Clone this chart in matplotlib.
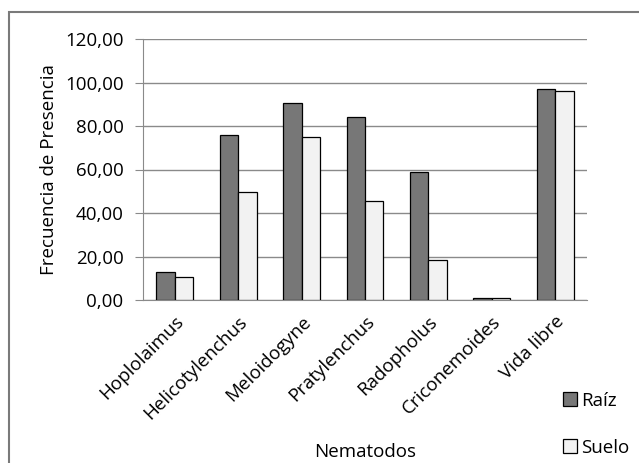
import matplotlib
matplotlib.use("Agg")
import matplotlib.pyplot as plt
from matplotlib.patches import Rectangle
from matplotlib.ticker import FuncFormatter
import numpy as np

plt.rcParams['font.family'] = ['Open Sans', 'DejaVu Sans']

nematodos = ["Hoplolaimus", "Helicotylenchus", "Meloidogyne", "Pratylenchus",
             "Radopholus", "Criconemoides", "Vida libre"]
raiz  = [12.7, 76.0, 90.6, 84.0, 59.0, 0.8, 96.9]
suelo = [10.7, 49.6, 75.0, 45.4, 18.5, 0.8, 96.0]

fs = 13.5

fig = plt.figure(figsize=(6.39, 4.63), dpi=100)
ax = fig.add_axes([143/639, 1 - 300/463, (587 - 143)/639, (300 - 39)/463])

x = np.arange(len(nematodos))
w = 0.29
ax.bar(x - w/2, raiz, w, color="#777777", edgecolor="black", linewidth=0.9,
       label="Raíz", zorder=3)
ax.bar(x + w/2, suelo, w, color="#f2f2f2", edgecolor="black", linewidth=0.9,
       label="Suelo", zorder=3)

ax.set_xlim(-0.5, len(nematodos) - 0.5)
ax.set_ylim(0, 120)
ax.set_yticks(np.arange(0, 121, 20))
ax.yaxis.set_major_formatter(FuncFormatter(lambda v, p: f"{v:.2f}".replace(".", ",")))
ax.grid(axis="y", color="#8a8a8a", linewidth=1.0, zorder=0)

for s in ["top", "right"]:
    ax.spines[s].set_visible(False)
ax.spines["left"].set_color("#8a8a8a")
ax.spines["bottom"].set_color("#8a8a8a")
ax.tick_params(axis="y", length=6, color="#8a8a8a", labelsize=fs, pad=8)
ax.tick_params(axis="x", length=0, labelsize=fs, pad=9)

ax.set_xticks(x)
ax.set_xticklabels(nematodos, rotation=45, ha="right", rotation_mode="anchor")

ax.set_ylabel("Frecuencia de Presencia", fontsize=fs, labelpad=5)
fig.text(365/639, 1 - 452/463, "Nematodos", fontsize=fs, ha="center", va="center")

leg = fig.legend(loc="upper left", bbox_to_anchor=(555/639, 1 - 384/463),
                 frameon=False, fontsize=fs, handlelength=0.75, handleheight=0.75,
                 handletextpad=0.25, labelspacing=1.55, borderaxespad=0)

# outer chart border
fig.patches.append(Rectangle((9/639, -0.1), 1.1, 1 - 12/463 + 0.1,
                             transform=fig.transFigure, fill=False,
                             edgecolor="#7a7a7a", linewidth=1.5))

fig.savefig("out.png", dpi=100)
